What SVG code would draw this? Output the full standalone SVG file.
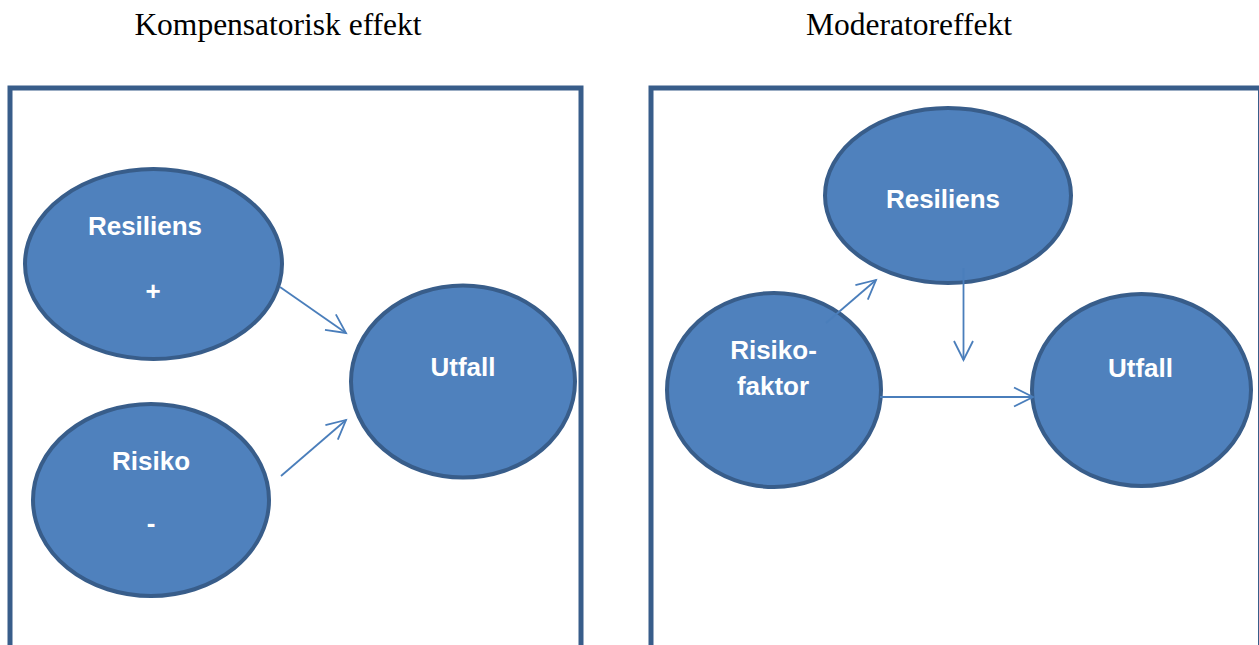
<svg xmlns="http://www.w3.org/2000/svg" width="1259" height="645" viewBox="0 0 1259 645">
  <style>
    .title { font-family: "Liberation Serif", "Times New Roman", serif; font-size: 31.5px; fill: #000; text-anchor: middle; }
    .frame { fill: #fff; stroke: #385D8A; stroke-width: 5; }
    .node ellipse { fill: #4F81BD; stroke: #385D8A; stroke-width: 4; }
    .node text { font-family: "Liberation Sans", Arial, sans-serif; font-weight: bold; font-size: 26px; fill: #fff; text-anchor: middle; }
    .conn line { stroke: #4A7EBB; stroke-width: 1.8; fill: none; marker-end: url(#arrow); }
  </style>
  <defs>
    <marker id="arrow" markerUnits="userSpaceOnUse" markerWidth="24" markerHeight="24" refX="0" refY="0" viewBox="-22 -12 24 24" orient="auto" overflow="visible">
      <path d="M-19,-9.5 L0,0 L-19,9.5" fill="none" stroke="#4A7EBB" stroke-width="1.8"/>
    </marker>
  </defs>
  <rect width="1259" height="645" fill="#fff"/>

  <text class="title" x="278" y="35">Kompensatorisk effekt</text>
  <text class="title" x="909" y="35">Moderatoreffekt</text>

  <rect class="frame" x="10" y="88" width="571" height="620"/>
  <rect class="frame" x="651" y="88" width="609.5" height="620"/>

  <g id="left-resiliens" class="node">
    <ellipse cx="153.5" cy="264" rx="128.5" ry="95"/>
    <text x="145" y="235">Resiliens</text>
    <text x="153" y="300">+</text>
  </g>
  <g id="left-risiko" class="node">
    <ellipse cx="151" cy="500" rx="118" ry="96"/>
    <text x="151" y="470">Risiko</text>
    <text x="151" y="532">-</text>
  </g>
  <g id="left-utfall" class="node">
    <ellipse cx="463" cy="381.5" rx="112" ry="96"/>
    <text x="463" y="376">Utfall</text>
  </g>

  <g id="right-resiliens" class="node">
    <ellipse cx="948" cy="195.5" rx="123" ry="87.5"/>
    <text x="943" y="208">Resiliens</text>
  </g>
  <g id="right-risikofaktor" class="node">
    <ellipse cx="774" cy="390" rx="107" ry="97"/>
    <text x="773.5" y="359">Risiko-</text>
    <text x="773" y="395">faktor</text>
  </g>
  <g id="right-utfall" class="node">
    <ellipse cx="1141.5" cy="390" rx="109.5" ry="96"/>
    <text x="1140.5" y="377">Utfall</text>
  </g>

  <g id="connectors" class="conn">
    <line x1="280" y1="287" x2="346" y2="333"/>
    <line x1="281" y1="476" x2="346" y2="420"/>
    <line x1="826" y1="323" x2="876" y2="280"/>
    <line x1="963.5" y1="268" x2="963.5" y2="360"/>
    <line x1="880" y1="397" x2="1033" y2="397"/>
  </g>
</svg>
